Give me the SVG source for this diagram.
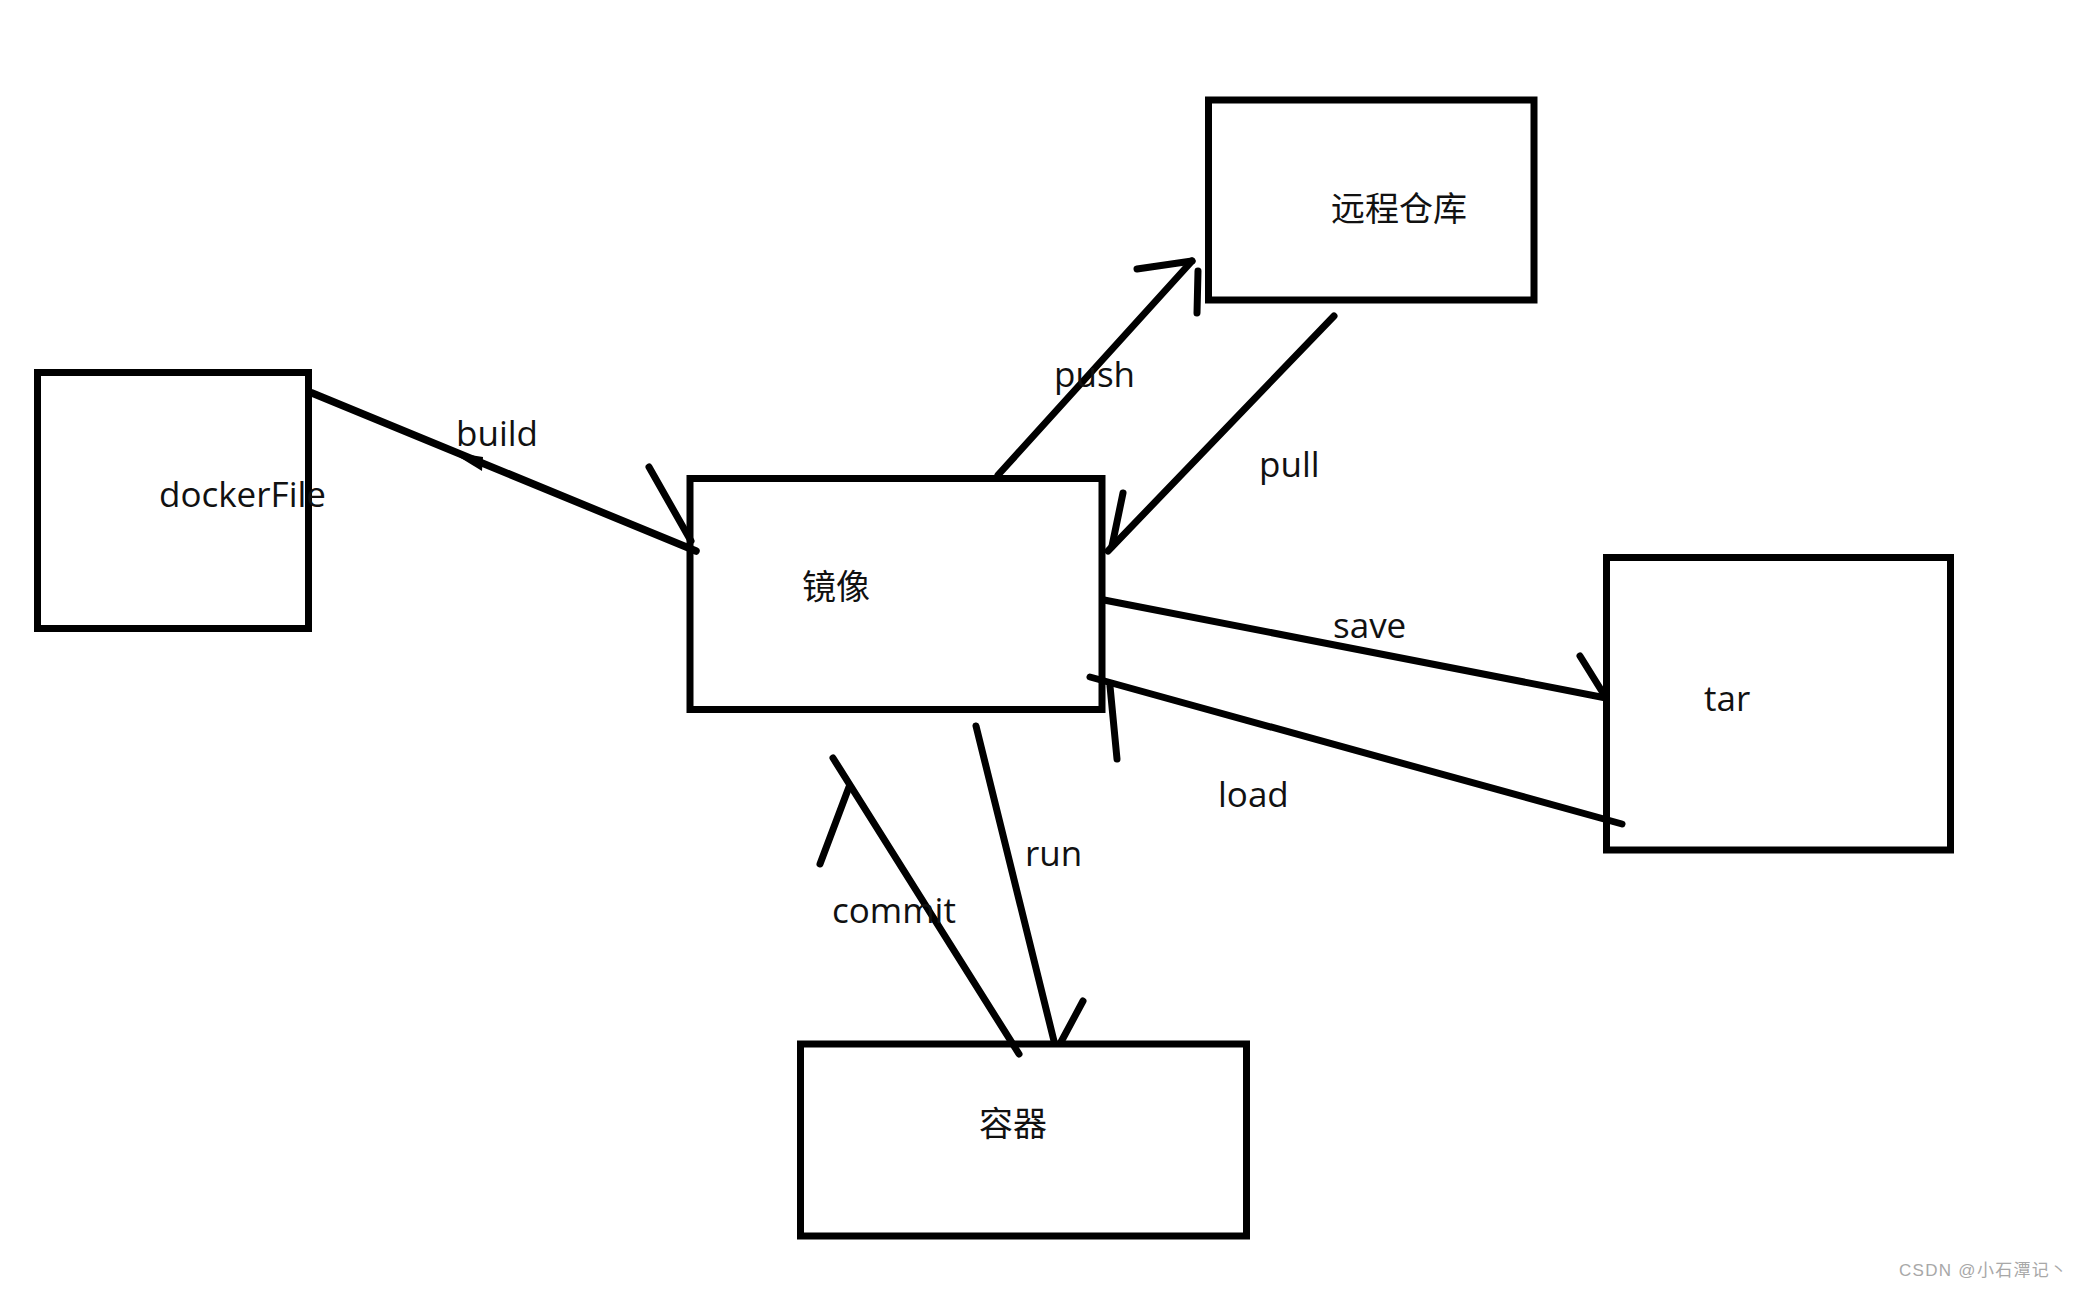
<svg xmlns="http://www.w3.org/2000/svg" width="2078" height="1292" viewBox="0 0 2078 1292">
<style>
.box{fill:none;stroke:#000;stroke-width:7}
.ln{fill:none;stroke:#000;stroke-width:7;stroke-linecap:round;stroke-linejoin:round}
.lat{font-family:"Open Sans","Noto Sans","Noto Sans CJK SC",sans-serif;font-size:35px;fill:#111}
.cjk{font-family:"Noto Sans CJK SC","Noto Sans",sans-serif;font-size:34px;fill:#111}
.wm{font-family:"Liberation Sans","Noto Sans CJK SC",sans-serif;font-size:17px;fill:#a8a8a8}
</style>
<rect width="2078" height="1292" fill="#fff"/>
<g id="connectors">
  <g id="build">
    <line class="ln" x1="312" y1="393" x2="696" y2="551" style="stroke-width:7.5"/>
    <polygon points="451,452 483,457 482,471" fill="#000"/>
    <line class="ln" x1="649" y1="467" x2="691" y2="541"/>
  </g>
  <g id="push">
    <line class="ln" x1="998" y1="475" x2="1192" y2="261"/>
    <line class="ln" x1="1137" y1="269" x2="1192" y2="261"/>
    <line class="ln" x1="1198" y1="271" x2="1197" y2="313"/>
  </g>
  <g id="pull">
    <line class="ln" x1="1334" y1="316" x2="1108" y2="551"/>
    <line class="ln" x1="1123" y1="493" x2="1112" y2="546"/>
  </g>
  <g id="save">
    <line class="ln" x1="1104" y1="600" x2="1606" y2="698"/>
    <line class="ln" x1="1580" y1="656" x2="1603" y2="693"/>
  </g>
  <g id="load">
    <line class="ln" x1="1622" y1="824" x2="1090" y2="677"/>
    <line class="ln" x1="1110" y1="686" x2="1117" y2="759"/>
  </g>
  <g id="run">
    <line class="ln" x1="976" y1="726" x2="1054" y2="1041"/>
    <line class="ln" x1="1083" y1="1001" x2="1061" y2="1042"/>
  </g>
  <g id="commit">
    <line class="ln" x1="1019" y1="1054" x2="833" y2="758"/>
    <line class="ln" x1="849" y1="787" x2="820" y2="864"/>
  </g>
</g>
<g id="dockerFile">
  <rect class="box" x="37.5" y="372.5" width="271" height="256"/>
  <text class="lat" x="159" y="507">dockerFile</text>
</g>
<g id="image">
  <rect class="box" x="690" y="478.5" width="412" height="231"/>
  <text class="cjk" x="802" y="599">镜像</text>
</g>
<g id="remote">
  <rect class="box" x="1208.5" y="100" width="325.5" height="200"/>
  <text class="cjk" x="1331" y="221">远程仓库</text>
</g>
<g id="tar">
  <rect class="box" x="1606.5" y="557.5" width="344" height="292.5"/>
  <text class="lat" x="1704" y="711">tar</text>
</g>
<g id="container">
  <rect class="box" x="800.5" y="1044" width="446" height="192"/>
  <text class="cjk" x="979" y="1136">容器</text>
</g>
<g id="labels">
  <text class="lat" x="456" y="446">build</text>
  <text class="lat" x="1054" y="387">push</text>
  <text class="lat" x="1259" y="477">pull</text>
  <text class="lat" x="1333" y="638">save</text>
  <text class="lat" x="1218" y="807">load</text>
  <text class="lat" x="1025" y="866">run</text>
  <text class="lat" x="832" y="923">commit</text>
</g>
<text class="wm" x="1899" y="1276" textLength="168">CSDN @小石潭记丶</text>
</svg>
